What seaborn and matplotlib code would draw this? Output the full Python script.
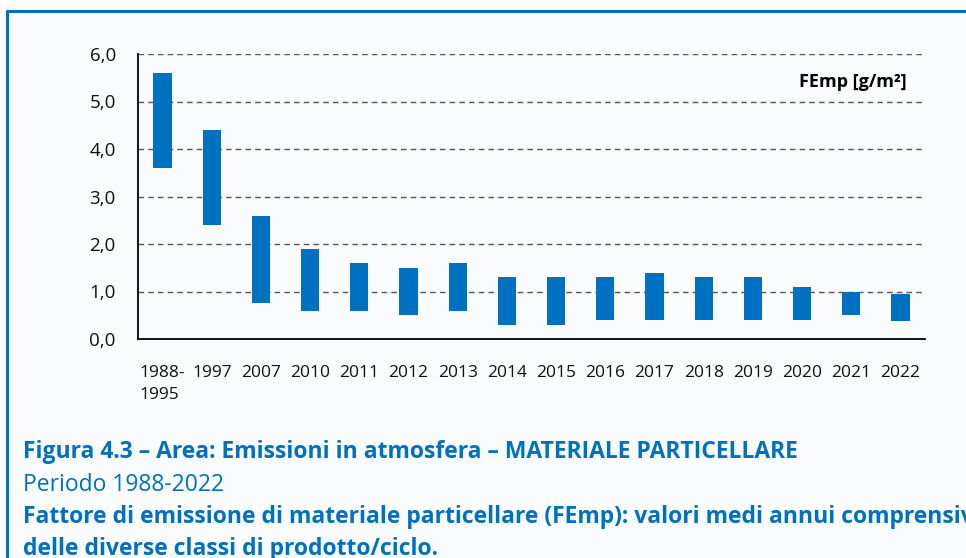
import matplotlib
matplotlib.use("Agg")
import matplotlib.pyplot as plt
import seaborn as sns
import pandas as pd
from matplotlib.lines import Line2D
from matplotlib.patches import Rectangle

categories = ["1988-\n1995", "1997", "2007", "2010", "2011", "2012", "2013", "2014",
              "2015", "2016", "2017", "2018", "2019", "2020", "2021", "2022"]
low_values = [3.6, 2.4, 0.75, 0.6, 0.6, 0.5, 0.6, 0.3, 0.3, 0.4, 0.4, 0.4, 0.4, 0.4, 0.5, 0.37]
high_values = [5.6, 4.4, 2.6, 1.9, 1.6, 1.5, 1.6, 1.3, 1.3, 1.3, 1.4, 1.3, 1.3, 1.1, 1.0, 0.95]
y_ticks = [0, 1, 2, 3, 4, 5, 6]
y_tick_labels = ["0,0", "1,0", "2,0", "3,0", "4,0", "5,0", "6,0"]

BLUE = "#0070C0"
FONT = ["Open Sans", "DejaVu Sans"]

sns.set_style("white")
plt.rcParams["font.family"] = FONT

df = pd.DataFrame({"cat": categories, "low": low_values, "high": high_values})
df["span"] = df["high"] - df["low"]

W, H = 966, 558
fig = plt.figure(figsize=(W / 100, H / 100), dpi=100, facecolor="white")

# panel background and border
fig.add_artist(Rectangle((7 / W, 0), 1 - 7 / W, 1 - 11 / H, transform=fig.transFigure,
                         facecolor="#F9FBFD", edgecolor="none", zorder=-10))
fig.add_artist(Line2D([7 / W, 7 / W], [0, 1 - 11 / H], transform=fig.transFigure,
                      color=BLUE, lw=2.2))
fig.add_artist(Line2D([7 / W, 1], [1 - 11 / H, 1 - 11 / H], transform=fig.transFigure,
                      color=BLUE, lw=2.2))

left, right = 138 / W, 925 / W
top, bottom = 1 - 54 / H, 1 - 339 / H
ax = fig.add_axes([left, bottom, right - left, top - bottom])
ax.set_facecolor("none")

sns.barplot(data=df, x="cat", y="span", bottom=df["low"].values, color=BLUE,
            width=0.37, saturation=1, ax=ax, zorder=3, linewidth=0)

ax.set_ylim(0, 6)
ax.set_xlim(-0.5, len(categories) - 0.5)
ax.set_yticks(y_ticks)
ax.set_yticklabels(y_tick_labels)
for y in y_ticks[1:]:
    ax.axhline(y, color="#555555", lw=1.0, ls=(0, (4, 3)), zorder=1)

for s in ["top", "right"]:
    ax.spines[s].set_visible(False)
ax.spines["left"].set_color("black")
ax.spines["bottom"].set_color("black")
ax.spines["left"].set_linewidth(1.3)
ax.spines["bottom"].set_linewidth(1.3)
ax.tick_params(axis="both", length=0, colors="#111111")
ax.tick_params(axis="x", pad=19, labelsize=12.5)
ax.tick_params(axis="y", pad=16, labelsize=13.5)
ax.set_xlabel("")
ax.set_ylabel("")
for lab in ax.get_xticklabels():
    lab.set_multialignment("left")
    lab.set_verticalalignment("top")
    lab.set_linespacing(1.45)

ax.text(907 / W, 1 - 82 / H, "FEmp [g/m²]", transform=fig.transFigure, ha="right",
        va="center", fontsize=13, fontweight="bold", color="black")

cap = 16.5
fig.text(23 / W, 1 - 452 / H, "Figura 4.3 – Area: Emissioni in atmosfera – MATERIALE PARTICELLARE",
         ha="left", va="center", fontsize=cap, fontweight="bold", color=BLUE)
fig.text(23 / W, 1 - 485 / H, "Periodo 1988-2022", ha="left", va="center",
         fontsize=cap, color=BLUE)
fig.text(23 / W, 1 - 517 / H,
         "Fattore di emissione di materiale particellare (FEmp): valori medi annui comprensivi",
         ha="left", va="center", fontsize=cap, fontweight="bold", color=BLUE)
fig.text(23 / W, 1 - 549 / H, "delle diverse classi di prodotto/ciclo.", ha="left",
         va="center", fontsize=cap, fontweight="bold", color=BLUE)

fig.savefig("out.png", dpi=100, facecolor="white")
